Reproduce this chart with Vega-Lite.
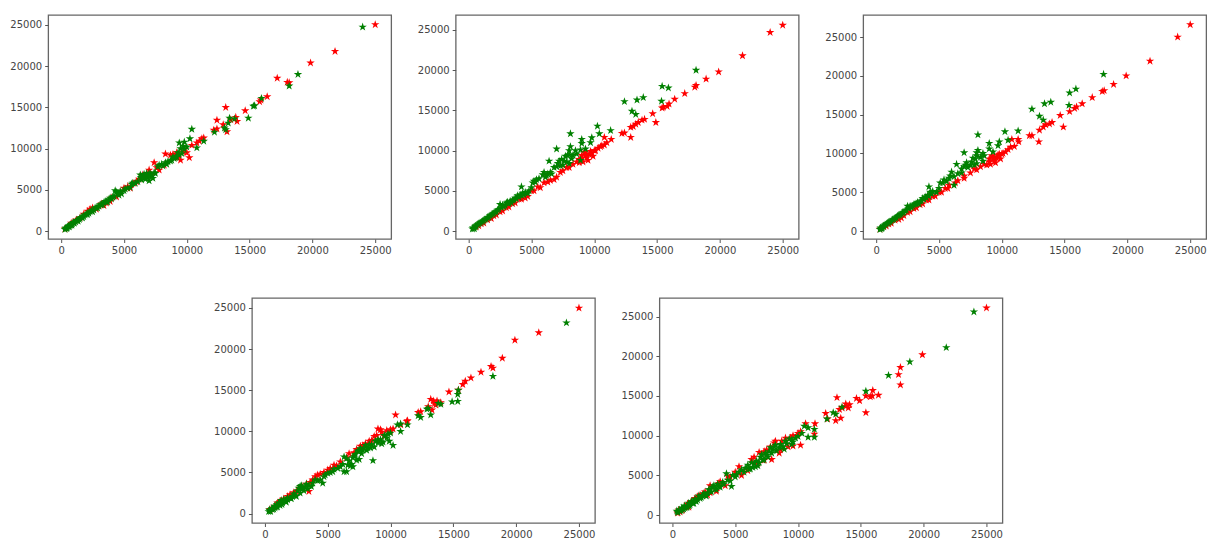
{"$schema":"https://vega.github.io/schema/vega-lite/v6.json","background":"white","padding":{"left":9,"top":14,"right":0,"bottom":0},"center":true,"spacing":40,
"config":{"numberFormat":"d","view":{"stroke":"#666666","strokeWidth":1.3},"axis":{"grid":false,"domain":false,"tickColor":"#555555","tickSize":3.5,"labelColor":"#444444","labelFont":"DejaVu Sans","labelFontSize":10,"labelPadding":3,"title":null,"labelOverlap":false,"labelFlush":false},"point":{"filled":true,"opacity":1,"size":78,"shape":"M0,-1L0.2245,-0.309L0.951,-0.309L0.363,0.118L0.588,0.809L0,0.382L-0.588,0.809L-0.363,0.118L-0.951,-0.309L-0.2245,-0.309Z"}},
"datasets":{
"p1":[{"x":800,"y":950,"s":"red"},{"x":1200,"y":1350,"s":"red"},{"x":1800,"y":2050,"s":"red"},{"x":2300,"y":2650,"s":"red"},{"x":2800,"y":2650,"s":"red"},{"x":3200,"y":3300,"s":"red"},{"x":3400,"y":3100,"s":"red"},{"x":3900,"y":3600,"s":"red"},{"x":4400,"y":4150,"s":"red"},{"x":5000,"y":5200,"s":"red"},{"x":5500,"y":5200,"s":"red"},{"x":6000,"y":6000,"s":"red"},{"x":6200,"y":6300,"s":"red"},{"x":7600,"y":7700,"s":"red"},{"x":8200,"y":8000,"s":"red"},{"x":8900,"y":9300,"s":"red"},{"x":9300,"y":8900,"s":"red"},{"x":9700,"y":9600,"s":"red"},{"x":10000,"y":9500,"s":"red"},{"x":11000,"y":10900,"s":"red"},{"x":25000,"y":25050,"s":"red"},{"x":21800,"y":21800,"s":"red"},{"x":19850,"y":20400,"s":"red"},{"x":18000,"y":18050,"s":"red"},{"x":18150,"y":18000,"s":"red"},{"x":17200,"y":18550,"s":"red"},{"x":16400,"y":16300,"s":"red"},{"x":15900,"y":15900,"s":"red"},{"x":15800,"y":15700,"s":"red"},{"x":14650,"y":14600,"s":"red"},{"x":13100,"y":15000,"s":"red"},{"x":12400,"y":13450,"s":"red"},{"x":13200,"y":12050,"s":"red"},{"x":12400,"y":12400,"s":"red"},{"x":12150,"y":12250,"s":"red"},{"x":12900,"y":12900,"s":"red"},{"x":13900,"y":13800,"s":"red"},{"x":14000,"y":13300,"s":"red"},{"x":13500,"y":13500,"s":"red"},{"x":11350,"y":11300,"s":"red"},{"x":11200,"y":11200,"s":"red"},{"x":10800,"y":10700,"s":"red"},{"x":10400,"y":10400,"s":"red"},{"x":10200,"y":8900,"s":"red"},{"x":9500,"y":8600,"s":"red"},{"x":8300,"y":9350,"s":"red"},{"x":8700,"y":9200,"s":"red"},{"x":9200,"y":9500,"s":"red"},{"x":7800,"y":7400,"s":"red"},{"x":7400,"y":8300,"s":"red"},{"x":7000,"y":7400,"s":"red"},{"x":6500,"y":6800,"s":"red"},{"x":7200,"y":6800,"s":"red"},{"x":5800,"y":5800,"s":"red"},{"x":5300,"y":5400,"s":"red"},{"x":4700,"y":4700,"s":"red"},{"x":4000,"y":4000,"s":"red"},{"x":3600,"y":3400,"s":"red"},{"x":2500,"y":2800,"s":"red"},{"x":2100,"y":2400,"s":"red"},{"x":1500,"y":1600,"s":"red"},{"x":300,"y":250,"s":"red"},
{"x":24000,"y":24750,"s":"green"},{"x":18850,"y":19000,"s":"green"},{"x":18150,"y":17600,"s":"green"},{"x":15950,"y":16100,"s":"green"},{"x":15400,"y":15200,"s":"green"},{"x":15300,"y":15150,"s":"green"},{"x":14900,"y":13700,"s":"green"},{"x":13800,"y":13600,"s":"green"},{"x":13400,"y":13700,"s":"green"},{"x":13300,"y":13100,"s":"green"},{"x":13000,"y":12500,"s":"green"},{"x":13100,"y":12300,"s":"green"},{"x":12200,"y":12000,"s":"green"},{"x":10400,"y":12350,"s":"green"},{"x":10250,"y":11200,"s":"green"},{"x":11350,"y":10900,"s":"green"},{"x":10800,"y":10100,"s":"green"},{"x":9400,"y":10700,"s":"green"},{"x":9800,"y":10800,"s":"green"},{"x":9500,"y":10000,"s":"green"},{"x":10000,"y":10200,"s":"green"},{"x":9800,"y":9900,"s":"green"},{"x":9600,"y":9400,"s":"green"},{"x":9400,"y":9200,"s":"green"},{"x":9200,"y":9000,"s":"green"},{"x":9000,"y":8800,"s":"green"},{"x":8800,"y":8600,"s":"green"},{"x":8500,"y":8400,"s":"green"},{"x":8300,"y":8300,"s":"green"},{"x":8000,"y":8100,"s":"green"},{"x":7800,"y":8000,"s":"green"},{"x":7500,"y":7000,"s":"green"},{"x":7300,"y":6400,"s":"green"},{"x":7100,"y":6900,"s":"green"},{"x":7000,"y":6100,"s":"green"},{"x":6900,"y":6500,"s":"green"},{"x":6800,"y":7000,"s":"green"},{"x":6700,"y":6300,"s":"green"},{"x":6500,"y":6600,"s":"green"},{"x":6400,"y":6200,"s":"green"},{"x":6300,"y":6800,"s":"green"},{"x":5900,"y":5800,"s":"green"},{"x":5700,"y":5800,"s":"green"},{"x":5600,"y":5700,"s":"green"},{"x":5300,"y":5200,"s":"green"},{"x":5000,"y":4900,"s":"green"},{"x":4700,"y":4800,"s":"green"},{"x":4500,"y":4500,"s":"green"},{"x":4300,"y":4900,"s":"green"},{"x":4200,"y":4200,"s":"green"},{"x":4000,"y":3900,"s":"green"},{"x":3800,"y":3800,"s":"green"},{"x":3600,"y":3550,"s":"green"},{"x":3400,"y":3450,"s":"green"},{"x":3200,"y":3150,"s":"green"},{"x":3000,"y":3000,"s":"green"},{"x":2800,"y":2800,"s":"green"},{"x":2600,"y":2550,"s":"green"},{"x":2400,"y":2450,"s":"green"},{"x":2200,"y":2150,"s":"green"},{"x":2000,"y":2050,"s":"green"},{"x":1800,"y":1750,"s":"green"},{"x":1600,"y":1650,"s":"green"},{"x":1450,"y":1400,"s":"green"},{"x":1300,"y":1300,"s":"green"},{"x":1150,"y":1100,"s":"green"},{"x":1000,"y":1000,"s":"green"},{"x":900,"y":850,"s":"green"},{"x":800,"y":800,"s":"green"},{"x":700,"y":650,"s":"green"},{"x":600,"y":600,"s":"green"},{"x":500,"y":420,"s":"green"},{"x":400,"y":350,"s":"green"},{"x":300,"y":200,"s":"green"},{"x":350,"y":350,"s":"green"},{"x":450,"y":300,"s":"green"},{"x":550,"y":550,"s":"green"},{"x":650,"y":500,"s":"green"},{"x":750,"y":750,"s":"green"},{"x":850,"y":700,"s":"green"},{"x":950,"y":1000,"s":"green"},{"x":1050,"y":950,"s":"green"},{"x":1200,"y":1250,"s":"green"},{"x":1350,"y":1200,"s":"green"},{"x":1500,"y":1550,"s":"green"},{"x":1700,"y":1600,"s":"green"},{"x":1900,"y":1950,"s":"green"},{"x":2100,"y":2000,"s":"green"},{"x":2300,"y":2350,"s":"green"},{"x":2500,"y":2350,"s":"green"},{"x":2700,"y":2800,"s":"green"},{"x":2900,"y":2800,"s":"green"},{"x":3100,"y":3200,"s":"green"},{"x":3300,"y":3200,"s":"green"},{"x":3500,"y":3600,"s":"green"},{"x":3700,"y":3500,"s":"green"},{"x":3900,"y":4000,"s":"green"},{"x":4100,"y":4100,"s":"green"},{"x":4400,"y":4700,"s":"green"},{"x":4600,"y":4350,"s":"green"},{"x":4800,"y":4500,"s":"green"},{"x":5100,"y":5100,"s":"green"},{"x":5500,"y":5300,"s":"green"},{"x":6100,"y":6000,"s":"green"},{"x":6350,"y":6500,"s":"green"},{"x":6600,"y":6900,"s":"green"},{"x":6700,"y":6600,"s":"green"},{"x":6800,"y":6700,"s":"green"},{"x":7000,"y":7000,"s":"green"},{"x":7200,"y":6600,"s":"green"},{"x":7400,"y":7100,"s":"green"},{"x":7700,"y":7800,"s":"green"},{"x":8100,"y":7900,"s":"green"},{"x":8400,"y":8100,"s":"green"},{"x":8700,"y":8500,"s":"green"},{"x":8900,"y":9000,"s":"green"},{"x":9100,"y":8900,"s":"green"},{"x":9300,"y":9500,"s":"green"},{"x":9700,"y":10300,"s":"green"}],
"p2":[{"x":800,"y":650,"s":"red"},{"x":1200,"y":1000,"s":"red"},{"x":1800,"y":1550,"s":"red"},{"x":2200,"y":2000,"s":"red"},{"x":2700,"y":2500,"s":"red"},{"x":3200,"y":3000,"s":"red"},{"x":3700,"y":3500,"s":"red"},{"x":4200,"y":3950,"s":"red"},{"x":4700,"y":4300,"s":"red"},{"x":5200,"y":5000,"s":"red"},{"x":5700,"y":5400,"s":"red"},{"x":6300,"y":6100,"s":"red"},{"x":7000,"y":6700,"s":"red"},{"x":7500,"y":7500,"s":"red"},{"x":8000,"y":7900,"s":"red"},{"x":8600,"y":8600,"s":"red"},{"x":9100,"y":8600,"s":"red"},{"x":9300,"y":9400,"s":"red"},{"x":9500,"y":8800,"s":"red"},{"x":9700,"y":9900,"s":"red"},{"x":9900,"y":9300,"s":"red"},{"x":10100,"y":10000,"s":"red"},{"x":10500,"y":10500,"s":"red"},{"x":10800,"y":10700,"s":"red"},{"x":9400,"y":9600,"s":"red"},{"x":9000,"y":9400,"s":"red"},{"x":8800,"y":8500,"s":"red"},{"x":25000,"y":25600,"s":"red"},{"x":24000,"y":24700,"s":"red"},{"x":21800,"y":21800,"s":"red"},{"x":19900,"y":19800,"s":"red"},{"x":18900,"y":18900,"s":"red"},{"x":18100,"y":18100,"s":"red"},{"x":18000,"y":17900,"s":"red"},{"x":17200,"y":17100,"s":"red"},{"x":16400,"y":16400,"s":"red"},{"x":15950,"y":15800,"s":"red"},{"x":15800,"y":15500,"s":"red"},{"x":15400,"y":15300,"s":"red"},{"x":15500,"y":15400,"s":"red"},{"x":14900,"y":13500,"s":"red"},{"x":14650,"y":14600,"s":"red"},{"x":14000,"y":13900,"s":"red"},{"x":13800,"y":13800,"s":"red"},{"x":13500,"y":13500,"s":"red"},{"x":13300,"y":13300,"s":"red"},{"x":13100,"y":13000,"s":"red"},{"x":12900,"y":12900,"s":"red"},{"x":12900,"y":11650,"s":"red"},{"x":12400,"y":12200,"s":"red"},{"x":12200,"y":12150,"s":"red"},{"x":11350,"y":11400,"s":"red"},{"x":10800,"y":11650,"s":"red"},{"x":11000,"y":11000,"s":"red"},{"x":10600,"y":10600,"s":"red"},{"x":10300,"y":10300,"s":"red"},{"x":10000,"y":10000,"s":"red"},{"x":9800,"y":9700,"s":"red"},{"x":9600,"y":9500,"s":"red"},{"x":9400,"y":9100,"s":"red"},{"x":9200,"y":9800,"s":"red"},{"x":9000,"y":9000,"s":"red"},{"x":8800,"y":8900,"s":"red"},{"x":8300,"y":8300,"s":"red"},{"x":7800,"y":7900,"s":"red"},{"x":7300,"y":7300,"s":"red"},{"x":6800,"y":6400,"s":"red"},{"x":6500,"y":6300,"s":"red"},{"x":6000,"y":6000,"s":"red"},{"x":5500,"y":5500,"s":"red"},{"x":5000,"y":5000,"s":"red"},{"x":4500,"y":4100,"s":"red"},{"x":4000,"y":4000,"s":"red"},{"x":3500,"y":3400,"s":"red"},{"x":3000,"y":2900,"s":"red"},{"x":2500,"y":2400,"s":"red"},{"x":2000,"y":1900,"s":"red"},{"x":1500,"y":1400,"s":"red"},{"x":1000,"y":900,"s":"red"},{"x":600,"y":500,"s":"red"},
{"x":18100,"y":20000,"s":"green"},{"x":15400,"y":18000,"s":"green"},{"x":15900,"y":17800,"s":"green"},{"x":13900,"y":16600,"s":"green"},{"x":13400,"y":16300,"s":"green"},{"x":12400,"y":16100,"s":"green"},{"x":15350,"y":16150,"s":"green"},{"x":13000,"y":14900,"s":"green"},{"x":13300,"y":14500,"s":"green"},{"x":10250,"y":13050,"s":"green"},{"x":11300,"y":12500,"s":"green"},{"x":10400,"y":12100,"s":"green"},{"x":8100,"y":12100,"s":"green"},{"x":9000,"y":11400,"s":"green"},{"x":9800,"y":11600,"s":"green"},{"x":9700,"y":11000,"s":"green"},{"x":9000,"y":10900,"s":"green"},{"x":7000,"y":10200,"s":"green"},{"x":8100,"y":10500,"s":"green"},{"x":8900,"y":10100,"s":"green"},{"x":8500,"y":10000,"s":"green"},{"x":8000,"y":9500,"s":"green"},{"x":7700,"y":9300,"s":"green"},{"x":7400,"y":8900,"s":"green"},{"x":8200,"y":9000,"s":"green"},{"x":7200,"y":8700,"s":"green"},{"x":6400,"y":8700,"s":"green"},{"x":7000,"y":8000,"s":"green"},{"x":6800,"y":7900,"s":"green"},{"x":7500,"y":8200,"s":"green"},{"x":8000,"y":8400,"s":"green"},{"x":8900,"y":8800,"s":"green"},{"x":6000,"y":7300,"s":"green"},{"x":6300,"y":7100,"s":"green"},{"x":6600,"y":7100,"s":"green"},{"x":6100,"y":6700,"s":"green"},{"x":5200,"y":6200,"s":"green"},{"x":5400,"y":6400,"s":"green"},{"x":5100,"y":6000,"s":"green"},{"x":4200,"y":5500,"s":"green"},{"x":4700,"y":4700,"s":"green"},{"x":4400,"y":4500,"s":"green"},{"x":4200,"y":4400,"s":"green"},{"x":4000,"y":4200,"s":"green"},{"x":3800,"y":4000,"s":"green"},{"x":3500,"y":3800,"s":"green"},{"x":3200,"y":3400,"s":"green"},{"x":3000,"y":3500,"s":"green"},{"x":2800,"y":3000,"s":"green"},{"x":2500,"y":3300,"s":"green"},{"x":2400,"y":2700,"s":"green"},{"x":2200,"y":2400,"s":"green"},{"x":2000,"y":2200,"s":"green"},{"x":1800,"y":2000,"s":"green"},{"x":1600,"y":1700,"s":"green"},{"x":1400,"y":1500,"s":"green"},{"x":1200,"y":1300,"s":"green"},{"x":1000,"y":1100,"s":"green"},{"x":800,"y":900,"s":"green"},{"x":600,"y":650,"s":"green"},{"x":500,"y":500,"s":"green"},{"x":400,"y":350,"s":"green"},{"x":300,"y":250,"s":"green"},{"x":350,"y":400,"s":"green"},{"x":450,"y":300,"s":"green"},{"x":550,"y":600,"s":"green"},{"x":700,"y":800,"s":"green"},{"x":900,"y":1000,"s":"green"},{"x":1100,"y":1200,"s":"green"},{"x":1300,"y":1450,"s":"green"},{"x":1500,"y":1650,"s":"green"},{"x":1700,"y":1900,"s":"green"},{"x":1900,"y":2100,"s":"green"},{"x":2100,"y":2350,"s":"green"},{"x":2300,"y":2600,"s":"green"},{"x":2600,"y":2900,"s":"green"},{"x":2700,"y":3200,"s":"green"},{"x":2900,"y":3200,"s":"green"},{"x":3100,"y":3600,"s":"green"},{"x":3300,"y":3700,"s":"green"},{"x":3400,"y":3500,"s":"green"},{"x":3600,"y":3900,"s":"green"},{"x":3700,"y":4100,"s":"green"},{"x":3900,"y":4400,"s":"green"},{"x":4100,"y":4500,"s":"green"},{"x":4300,"y":4700,"s":"green"},{"x":4500,"y":4800,"s":"green"},{"x":4800,"y":5000,"s":"green"},{"x":5000,"y":5400,"s":"green"},{"x":5300,"y":6100,"s":"green"},{"x":5600,"y":6500,"s":"green"},{"x":5900,"y":7000,"s":"green"},{"x":6200,"y":6900,"s":"green"},{"x":6500,"y":7300,"s":"green"},{"x":7100,"y":8400,"s":"green"},{"x":7300,"y":8100,"s":"green"},{"x":7600,"y":8700,"s":"green"},{"x":7800,"y":8600,"s":"green"},{"x":7900,"y":9400,"s":"green"},{"x":8300,"y":9400,"s":"green"},{"x":8600,"y":9600,"s":"green"},{"x":9300,"y":10200,"s":"green"},{"x":8000,"y":10000,"s":"green"}],
"p3":[{"x":800,"y":650,"s":"red"},{"x":1200,"y":1000,"s":"red"},{"x":1800,"y":1500,"s":"red"},{"x":2200,"y":2000,"s":"red"},{"x":2700,"y":2500,"s":"red"},{"x":3200,"y":3000,"s":"red"},{"x":3700,"y":3500,"s":"red"},{"x":4200,"y":4000,"s":"red"},{"x":4700,"y":4500,"s":"red"},{"x":5200,"y":5000,"s":"red"},{"x":5700,"y":5500,"s":"red"},{"x":6300,"y":6200,"s":"red"},{"x":7000,"y":6800,"s":"red"},{"x":7500,"y":7500,"s":"red"},{"x":8000,"y":7900,"s":"red"},{"x":8600,"y":8600,"s":"red"},{"x":9100,"y":8600,"s":"red"},{"x":9300,"y":9400,"s":"red"},{"x":9500,"y":8800,"s":"red"},{"x":9700,"y":9800,"s":"red"},{"x":9900,"y":9300,"s":"red"},{"x":10100,"y":10000,"s":"red"},{"x":10500,"y":10500,"s":"red"},{"x":11000,"y":10900,"s":"red"},{"x":9400,"y":9600,"s":"red"},{"x":9000,"y":9300,"s":"red"},{"x":8800,"y":8500,"s":"red"},{"x":25000,"y":26600,"s":"red"},{"x":24000,"y":25000,"s":"red"},{"x":21800,"y":21900,"s":"red"},{"x":19900,"y":20000,"s":"red"},{"x":18900,"y":18900,"s":"red"},{"x":18150,"y":18100,"s":"red"},{"x":18000,"y":18000,"s":"red"},{"x":17200,"y":17200,"s":"red"},{"x":16400,"y":16400,"s":"red"},{"x":15950,"y":16000,"s":"red"},{"x":15800,"y":15800,"s":"red"},{"x":15400,"y":15400,"s":"red"},{"x":14900,"y":13400,"s":"red"},{"x":14650,"y":14900,"s":"red"},{"x":14000,"y":14000,"s":"red"},{"x":13800,"y":13800,"s":"red"},{"x":13500,"y":13700,"s":"red"},{"x":13300,"y":13400,"s":"red"},{"x":13000,"y":13000,"s":"red"},{"x":12950,"y":11500,"s":"red"},{"x":12400,"y":12300,"s":"red"},{"x":12200,"y":12300,"s":"red"},{"x":11350,"y":11500,"s":"red"},{"x":11300,"y":11800,"s":"red"},{"x":10800,"y":11800,"s":"red"},{"x":10700,"y":10800,"s":"red"},{"x":10300,"y":10200,"s":"red"},{"x":10000,"y":9900,"s":"red"},{"x":9800,"y":9900,"s":"red"},{"x":9600,"y":9400,"s":"red"},{"x":9400,"y":9000,"s":"red"},{"x":9200,"y":9700,"s":"red"},{"x":9000,"y":8900,"s":"red"},{"x":8300,"y":8300,"s":"red"},{"x":7800,"y":8000,"s":"red"},{"x":7000,"y":7100,"s":"red"},{"x":6500,"y":6500,"s":"red"},{"x":5800,"y":5900,"s":"red"},{"x":5500,"y":5500,"s":"red"},{"x":5000,"y":5000,"s":"red"},{"x":4500,"y":4500,"s":"red"},{"x":4000,"y":4000,"s":"red"},{"x":3500,"y":3400,"s":"red"},{"x":3000,"y":2900,"s":"red"},{"x":2500,"y":2400,"s":"red"},{"x":2000,"y":1700,"s":"red"},{"x":1500,"y":1400,"s":"red"},{"x":1000,"y":900,"s":"red"},{"x":600,"y":550,"s":"red"},{"x":300,"y":250,"s":"red"},
{"x":18100,"y":20200,"s":"green"},{"x":15900,"y":18300,"s":"green"},{"x":15400,"y":17800,"s":"green"},{"x":13900,"y":16600,"s":"green"},{"x":13400,"y":16400,"s":"green"},{"x":15350,"y":16200,"s":"green"},{"x":12400,"y":15700,"s":"green"},{"x":13000,"y":14800,"s":"green"},{"x":13300,"y":14300,"s":"green"},{"x":11300,"y":12900,"s":"green"},{"x":10250,"y":12800,"s":"green"},{"x":8100,"y":12400,"s":"green"},{"x":10500,"y":11700,"s":"green"},{"x":9800,"y":11500,"s":"green"},{"x":9000,"y":11300,"s":"green"},{"x":9700,"y":11000,"s":"green"},{"x":9000,"y":10600,"s":"green"},{"x":8100,"y":10400,"s":"green"},{"x":7000,"y":10100,"s":"green"},{"x":8500,"y":10000,"s":"green"},{"x":8000,"y":9700,"s":"green"},{"x":7700,"y":9400,"s":"green"},{"x":6400,"y":8600,"s":"green"},{"x":7200,"y":8800,"s":"green"},{"x":7000,"y":8300,"s":"green"},{"x":7500,"y":8500,"s":"green"},{"x":8000,"y":8700,"s":"green"},{"x":8500,"y":9000,"s":"green"},{"x":6800,"y":8000,"s":"green"},{"x":6000,"y":7600,"s":"green"},{"x":6200,"y":7000,"s":"green"},{"x":5800,"y":6800,"s":"green"},{"x":5400,"y":6600,"s":"green"},{"x":5100,"y":6200,"s":"green"},{"x":6200,"y":5900,"s":"green"},{"x":4200,"y":5700,"s":"green"},{"x":4800,"y":5000,"s":"green"},{"x":4400,"y":4800,"s":"green"},{"x":4200,"y":4500,"s":"green"},{"x":4000,"y":4300,"s":"green"},{"x":3800,"y":4100,"s":"green"},{"x":3500,"y":3800,"s":"green"},{"x":3200,"y":3500,"s":"green"},{"x":3000,"y":3400,"s":"green"},{"x":2800,"y":3000,"s":"green"},{"x":2500,"y":3200,"s":"green"},{"x":2400,"y":2700,"s":"green"},{"x":2200,"y":2400,"s":"green"},{"x":2000,"y":2200,"s":"green"},{"x":1800,"y":2000,"s":"green"},{"x":1600,"y":1700,"s":"green"},{"x":1400,"y":1500,"s":"green"},{"x":1200,"y":1300,"s":"green"},{"x":1000,"y":1100,"s":"green"},{"x":800,"y":900,"s":"green"},{"x":600,"y":650,"s":"green"},{"x":500,"y":450,"s":"green"},{"x":400,"y":300,"s":"green"},{"x":300,"y":200,"s":"green"},{"x":350,"y":400,"s":"green"},{"x":450,"y":350,"s":"green"},{"x":550,"y":600,"s":"green"},{"x":700,"y":800,"s":"green"},{"x":900,"y":1000,"s":"green"},{"x":1100,"y":1200,"s":"green"},{"x":1300,"y":1450,"s":"green"},{"x":1500,"y":1650,"s":"green"},{"x":1700,"y":1900,"s":"green"},{"x":1900,"y":2100,"s":"green"},{"x":2100,"y":2350,"s":"green"},{"x":2300,"y":2600,"s":"green"},{"x":2600,"y":2900,"s":"green"},{"x":2700,"y":3200,"s":"green"},{"x":2900,"y":3200,"s":"green"},{"x":3100,"y":3500,"s":"green"},{"x":3300,"y":3700,"s":"green"},{"x":3400,"y":3500,"s":"green"},{"x":3600,"y":3900,"s":"green"},{"x":3700,"y":4200,"s":"green"},{"x":3900,"y":4400,"s":"green"},{"x":4100,"y":4600,"s":"green"},{"x":4300,"y":5000,"s":"green"},{"x":4500,"y":5100,"s":"green"},{"x":5000,"y":5500,"s":"green"},{"x":5300,"y":6200,"s":"green"},{"x":5600,"y":6400,"s":"green"},{"x":5900,"y":7100,"s":"green"},{"x":6500,"y":7400,"s":"green"},{"x":6800,"y":7500,"s":"green"},{"x":7100,"y":8500,"s":"green"},{"x":7300,"y":8200,"s":"green"},{"x":7600,"y":8900,"s":"green"},{"x":7800,"y":8500,"s":"green"},{"x":7900,"y":9300,"s":"green"},{"x":8300,"y":9500,"s":"green"},{"x":8600,"y":9700,"s":"green"},{"x":9300,"y":10200,"s":"green"},{"x":8000,"y":10100,"s":"green"}],
"p4":[{"x":400,"y":500,"s":"red"},{"x":1000,"y":1300,"s":"red"},{"x":1800,"y":2100,"s":"red"},{"x":2300,"y":2550,"s":"red"},{"x":2800,"y":3100,"s":"red"},{"x":3300,"y":3600,"s":"red"},{"x":3800,"y":4100,"s":"red"},{"x":4200,"y":4700,"s":"red"},{"x":4700,"y":5000,"s":"red"},{"x":5200,"y":5500,"s":"red"},{"x":6000,"y":6300,"s":"red"},{"x":6500,"y":6800,"s":"red"},{"x":7300,"y":7800,"s":"red"},{"x":7800,"y":8300,"s":"red"},{"x":8300,"y":8800,"s":"red"},{"x":8700,"y":9400,"s":"red"},{"x":9200,"y":10200,"s":"red"},{"x":9500,"y":9400,"s":"red"},{"x":10000,"y":10000,"s":"red"},{"x":13400,"y":13700,"s":"red"},{"x":13600,"y":13200,"s":"red"},{"x":25000,"y":25000,"s":"red"},{"x":21800,"y":22000,"s":"red"},{"x":19900,"y":21100,"s":"red"},{"x":18900,"y":18900,"s":"red"},{"x":18150,"y":17700,"s":"red"},{"x":18000,"y":17900,"s":"red"},{"x":17200,"y":17200,"s":"red"},{"x":16400,"y":16500,"s":"red"},{"x":15950,"y":16100,"s":"red"},{"x":15750,"y":15700,"s":"red"},{"x":15400,"y":15000,"s":"red"},{"x":14650,"y":14800,"s":"red"},{"x":14000,"y":13500,"s":"red"},{"x":13700,"y":13700,"s":"red"},{"x":13500,"y":13400,"s":"red"},{"x":13200,"y":13900,"s":"red"},{"x":13000,"y":13000,"s":"red"},{"x":13300,"y":12600,"s":"red"},{"x":12400,"y":12400,"s":"red"},{"x":12200,"y":12300,"s":"red"},{"x":11350,"y":11300,"s":"red"},{"x":11300,"y":11200,"s":"red"},{"x":10400,"y":12000,"s":"red"},{"x":10800,"y":10800,"s":"red"},{"x":10200,"y":10300,"s":"red"},{"x":10000,"y":10200,"s":"red"},{"x":9700,"y":10100,"s":"red"},{"x":9000,"y":10300,"s":"red"},{"x":8900,"y":9500,"s":"red"},{"x":9300,"y":9900,"s":"red"},{"x":8500,"y":8900,"s":"red"},{"x":8000,"y":8500,"s":"red"},{"x":7600,"y":8200,"s":"red"},{"x":6700,"y":7300,"s":"red"},{"x":7100,"y":7400,"s":"red"},{"x":5500,"y":5900,"s":"red"},{"x":5700,"y":5800,"s":"red"},{"x":5000,"y":5300,"s":"red"},{"x":4400,"y":4800,"s":"red"},{"x":4000,"y":4500,"s":"red"},{"x":3600,"y":3800,"s":"red"},{"x":3500,"y":2700,"s":"red"},{"x":3000,"y":3200,"s":"red"},{"x":2500,"y":2700,"s":"red"},{"x":2000,"y":2300,"s":"red"},{"x":1500,"y":1800,"s":"red"},{"x":1200,"y":1500,"s":"red"},{"x":800,"y":900,"s":"red"},
{"x":24000,"y":23200,"s":"green"},{"x":18150,"y":16700,"s":"green"},{"x":15400,"y":15000,"s":"green"},{"x":15350,"y":14500,"s":"green"},{"x":14900,"y":13600,"s":"green"},{"x":15350,"y":13650,"s":"green"},{"x":14000,"y":13300,"s":"green"},{"x":13800,"y":13400,"s":"green"},{"x":13200,"y":12000,"s":"green"},{"x":12900,"y":12700,"s":"green"},{"x":13000,"y":12800,"s":"green"},{"x":12200,"y":11900,"s":"green"},{"x":12400,"y":11700,"s":"green"},{"x":11350,"y":10800,"s":"green"},{"x":10800,"y":10900,"s":"green"},{"x":10550,"y":10800,"s":"green"},{"x":10800,"y":10000,"s":"green"},{"x":10200,"y":8300,"s":"green"},{"x":8600,"y":6450,"s":"green"},{"x":9800,"y":9700,"s":"green"},{"x":9500,"y":9500,"s":"green"},{"x":9400,"y":8700,"s":"green"},{"x":9200,"y":9000,"s":"green"},{"x":9000,"y":8600,"s":"green"},{"x":8800,"y":8800,"s":"green"},{"x":8500,"y":8400,"s":"green"},{"x":8200,"y":8000,"s":"green"},{"x":8000,"y":8300,"s":"green"},{"x":7800,"y":7700,"s":"green"},{"x":7600,"y":7900,"s":"green"},{"x":7500,"y":6600,"s":"green"},{"x":7400,"y":7600,"s":"green"},{"x":7200,"y":7200,"s":"green"},{"x":7000,"y":6800,"s":"green"},{"x":7000,"y":5700,"s":"green"},{"x":6800,"y":5800,"s":"green"},{"x":6500,"y":6700,"s":"green"},{"x":6300,"y":6900,"s":"green"},{"x":6300,"y":5100,"s":"green"},{"x":6500,"y":5100,"s":"green"},{"x":6000,"y":5700,"s":"green"},{"x":5500,"y":5400,"s":"green"},{"x":5000,"y":4900,"s":"green"},{"x":4700,"y":4500,"s":"green"},{"x":4600,"y":3700,"s":"green"},{"x":4200,"y":4000,"s":"green"},{"x":3800,"y":3700,"s":"green"},{"x":3500,"y":3400,"s":"green"},{"x":3200,"y":3200,"s":"green"},{"x":3000,"y":3000,"s":"green"},{"x":2800,"y":3300,"s":"green"},{"x":2600,"y":2800,"s":"green"},{"x":2400,"y":2200,"s":"green"},{"x":2200,"y":2100,"s":"green"},{"x":2000,"y":1900,"s":"green"},{"x":1800,"y":1700,"s":"green"},{"x":1600,"y":1500,"s":"green"},{"x":1400,"y":1300,"s":"green"},{"x":1200,"y":1000,"s":"green"},{"x":1100,"y":1300,"s":"green"},{"x":1000,"y":800,"s":"green"},{"x":800,"y":700,"s":"green"},{"x":600,"y":500,"s":"green"},{"x":400,"y":350,"s":"green"},{"x":300,"y":250,"s":"green"},{"x":350,"y":450,"s":"green"},{"x":450,"y":250,"s":"green"},{"x":550,"y":600,"s":"green"},{"x":700,"y":550,"s":"green"},{"x":750,"y":900,"s":"green"},{"x":900,"y":800,"s":"green"},{"x":950,"y":1100,"s":"green"},{"x":1150,"y":1100,"s":"green"},{"x":1300,"y":1600,"s":"green"},{"x":1350,"y":1100,"s":"green"},{"x":1500,"y":1700,"s":"green"},{"x":1700,"y":1400,"s":"green"},{"x":1800,"y":1900,"s":"green"},{"x":2100,"y":1800,"s":"green"},{"x":2300,"y":2400,"s":"green"},{"x":2500,"y":2100,"s":"green"},{"x":2700,"y":3100,"s":"green"},{"x":2800,"y":2500,"s":"green"},{"x":2900,"y":3400,"s":"green"},{"x":3100,"y":2800,"s":"green"},{"x":3300,"y":3600,"s":"green"},{"x":3400,"y":3000,"s":"green"},{"x":3700,"y":3300,"s":"green"},{"x":4000,"y":4100,"s":"green"},{"x":4400,"y":4100,"s":"green"},{"x":4800,"y":4700,"s":"green"},{"x":5200,"y":5000,"s":"green"},{"x":5400,"y":5100,"s":"green"},{"x":5800,"y":5500,"s":"green"},{"x":6200,"y":6000,"s":"green"},{"x":6600,"y":5900,"s":"green"},{"x":6700,"y":6400,"s":"green"},{"x":6900,"y":6000,"s":"green"},{"x":7100,"y":7000,"s":"green"},{"x":7300,"y":6500,"s":"green"},{"x":7500,"y":7700,"s":"green"},{"x":7700,"y":7300,"s":"green"},{"x":7900,"y":8000,"s":"green"},{"x":8100,"y":7700,"s":"green"},{"x":8300,"y":8400,"s":"green"},{"x":8400,"y":8000,"s":"green"},{"x":8700,"y":8100,"s":"green"},{"x":9000,"y":9000,"s":"green"},{"x":9300,"y":8500,"s":"green"},{"x":9700,"y":9200,"s":"green"},{"x":9900,"y":8800,"s":"green"},{"x":10000,"y":9800,"s":"green"}],
"p5":[{"x":400,"y":250,"s":"red"},{"x":500,"y":600,"s":"red"},{"x":1200,"y":1400,"s":"red"},{"x":1300,"y":1000,"s":"red"},{"x":1800,"y":2100,"s":"red"},{"x":2200,"y":2500,"s":"red"},{"x":2600,"y":2900,"s":"red"},{"x":3000,"y":2800,"s":"red"},{"x":3500,"y":3000,"s":"red"},{"x":3800,"y":4200,"s":"red"},{"x":4600,"y":4800,"s":"red"},{"x":5000,"y":5400,"s":"red"},{"x":6000,"y":5600,"s":"red"},{"x":6300,"y":7000,"s":"red"},{"x":6900,"y":7900,"s":"red"},{"x":7300,"y":6900,"s":"red"},{"x":7500,"y":8200,"s":"red"},{"x":7800,"y":8600,"s":"red"},{"x":8100,"y":9100,"s":"red"},{"x":8600,"y":8200,"s":"red"},{"x":8700,"y":9300,"s":"red"},{"x":9200,"y":8600,"s":"red"},{"x":9600,"y":10000,"s":"red"},{"x":9900,"y":10000,"s":"red"},{"x":13800,"y":13700,"s":"red"},{"x":14000,"y":13500,"s":"red"},{"x":25000,"y":26100,"s":"red"},{"x":19900,"y":20200,"s":"red"},{"x":18150,"y":18600,"s":"red"},{"x":18000,"y":17700,"s":"red"},{"x":18150,"y":16400,"s":"red"},{"x":16400,"y":15100,"s":"red"},{"x":15950,"y":15700,"s":"red"},{"x":15900,"y":15000,"s":"red"},{"x":15750,"y":14900,"s":"red"},{"x":15400,"y":15000,"s":"red"},{"x":15400,"y":12900,"s":"red"},{"x":14900,"y":14400,"s":"red"},{"x":14650,"y":14700,"s":"red"},{"x":14100,"y":13900,"s":"red"},{"x":13800,"y":14000,"s":"red"},{"x":13500,"y":13500,"s":"red"},{"x":13100,"y":14800,"s":"red"},{"x":13300,"y":13300,"s":"red"},{"x":13000,"y":11900,"s":"red"},{"x":13400,"y":12200,"s":"red"},{"x":12350,"y":12100,"s":"red"},{"x":12200,"y":12800,"s":"red"},{"x":11350,"y":11500,"s":"red"},{"x":11300,"y":10200,"s":"red"},{"x":10600,"y":11500,"s":"red"},{"x":10200,"y":10500,"s":"red"},{"x":10000,"y":10300,"s":"red"},{"x":10200,"y":8800,"s":"red"},{"x":9600,"y":8700,"s":"red"},{"x":9400,"y":9700,"s":"red"},{"x":9000,"y":9700,"s":"red"},{"x":8200,"y":9300,"s":"red"},{"x":8500,"y":7800,"s":"red"},{"x":7900,"y":7000,"s":"red"},{"x":7300,"y":8000,"s":"red"},{"x":6500,"y":7300,"s":"red"},{"x":6800,"y":6500,"s":"red"},{"x":5300,"y":6100,"s":"red"},{"x":5500,"y":5000,"s":"red"},{"x":4400,"y":4900,"s":"red"},{"x":4200,"y":3700,"s":"red"},{"x":3700,"y":4000,"s":"red"},{"x":3000,"y":3700,"s":"red"},{"x":2800,"y":2500,"s":"red"},{"x":2400,"y":2600,"s":"red"},{"x":2000,"y":2300,"s":"red"},{"x":1500,"y":1700,"s":"red"},{"x":1000,"y":1000,"s":"red"},{"x":800,"y":600,"s":"red"},{"x":600,"y":400,"s":"red"},
{"x":24000,"y":25600,"s":"green"},{"x":21800,"y":21100,"s":"green"},{"x":18900,"y":19300,"s":"green"},{"x":17200,"y":17600,"s":"green"},{"x":15400,"y":15600,"s":"green"},{"x":13500,"y":13600,"s":"green"},{"x":13000,"y":12700,"s":"green"},{"x":12800,"y":12900,"s":"green"},{"x":12300,"y":12100,"s":"green"},{"x":11300,"y":10800,"s":"green"},{"x":11300,"y":9800,"s":"green"},{"x":10800,"y":11000,"s":"green"},{"x":10800,"y":9800,"s":"green"},{"x":10500,"y":11200,"s":"green"},{"x":10300,"y":10300,"s":"green"},{"x":9800,"y":9700,"s":"green"},{"x":9500,"y":8900,"s":"green"},{"x":9300,"y":9600,"s":"green"},{"x":9000,"y":9300,"s":"green"},{"x":8800,"y":8600,"s":"green"},{"x":8500,"y":8500,"s":"green"},{"x":8200,"y":8800,"s":"green"},{"x":8000,"y":8200,"s":"green"},{"x":7800,"y":8500,"s":"green"},{"x":7500,"y":7500,"s":"green"},{"x":7300,"y":7000,"s":"green"},{"x":7000,"y":7300,"s":"green"},{"x":6800,"y":6200,"s":"green"},{"x":6500,"y":6500,"s":"green"},{"x":6200,"y":5800,"s":"green"},{"x":6000,"y":6300,"s":"green"},{"x":5800,"y":5900,"s":"green"},{"x":5300,"y":5400,"s":"green"},{"x":5000,"y":4800,"s":"green"},{"x":4700,"y":3600,"s":"green"},{"x":4300,"y":5200,"s":"green"},{"x":4400,"y":4400,"s":"green"},{"x":4000,"y":4100,"s":"green"},{"x":3700,"y":3600,"s":"green"},{"x":3400,"y":3300,"s":"green"},{"x":3200,"y":3500,"s":"green"},{"x":3000,"y":3200,"s":"green"},{"x":2800,"y":2800,"s":"green"},{"x":2600,"y":2500,"s":"green"},{"x":2400,"y":2400,"s":"green"},{"x":2200,"y":2100,"s":"green"},{"x":2000,"y":1900,"s":"green"},{"x":1800,"y":1800,"s":"green"},{"x":1600,"y":1500,"s":"green"},{"x":1400,"y":1300,"s":"green"},{"x":1200,"y":1100,"s":"green"},{"x":1000,"y":900,"s":"green"},{"x":800,"y":700,"s":"green"},{"x":600,"y":500,"s":"green"},{"x":400,"y":400,"s":"green"},{"x":350,"y":500,"s":"green"},{"x":450,"y":300,"s":"green"},{"x":550,"y":650,"s":"green"},{"x":700,"y":550,"s":"green"},{"x":750,"y":900,"s":"green"},{"x":900,"y":750,"s":"green"},{"x":950,"y":1150,"s":"green"},{"x":1150,"y":950,"s":"green"},{"x":1300,"y":1500,"s":"green"},{"x":1350,"y":1150,"s":"green"},{"x":1500,"y":1700,"s":"green"},{"x":1700,"y":1450,"s":"green"},{"x":1800,"y":2000,"s":"green"},{"x":1900,"y":1700,"s":"green"},{"x":2100,"y":2400,"s":"green"},{"x":2300,"y":2200,"s":"green"},{"x":2500,"y":2700,"s":"green"},{"x":2700,"y":2400,"s":"green"},{"x":2900,"y":3200,"s":"green"},{"x":3100,"y":2900,"s":"green"},{"x":3300,"y":3700,"s":"green"},{"x":3500,"y":3200,"s":"green"},{"x":3600,"y":3900,"s":"green"},{"x":3800,"y":3500,"s":"green"},{"x":4100,"y":3900,"s":"green"},{"x":4600,"y":4300,"s":"green"},{"x":4800,"y":5000,"s":"green"},{"x":5100,"y":5100,"s":"green"},{"x":5500,"y":5700,"s":"green"},{"x":5700,"y":5400,"s":"green"},{"x":6100,"y":5800,"s":"green"},{"x":6300,"y":6600,"s":"green"},{"x":6400,"y":6000,"s":"green"},{"x":6600,"y":6100,"s":"green"},{"x":6700,"y":6800,"s":"green"},{"x":6900,"y":6600,"s":"green"},{"x":7100,"y":7600,"s":"green"},{"x":7200,"y":6900,"s":"green"},{"x":7400,"y":7800,"s":"green"},{"x":7600,"y":7300,"s":"green"},{"x":7700,"y":8000,"s":"green"},{"x":7900,"y":7800,"s":"green"},{"x":8100,"y":8600,"s":"green"},{"x":8300,"y":8100,"s":"green"},{"x":8600,"y":8900,"s":"green"},{"x":8900,"y":8300,"s":"green"},{"x":9100,"y":9000,"s":"green"},{"x":9500,"y":9500,"s":"green"},{"x":9600,"y":9200,"s":"green"},{"x":10000,"y":9900,"s":"green"}]},
"vconcat":[{"hconcat":[
{"width":343,"height":224,"data":{"name":"p1"},"mark":"point","encoding":{"x":{"field":"x","type":"quantitative","axis":{"values":[0,5000,10000,15000,20000,25000]},"scale":{"domain":[-1035,26270],"nice":false,"zero":false}},"y":{"field":"y","type":"quantitative","axis":{"values":[0,5000,10000,15000,20000,25000]},"scale":{"domain":[-970,26210],"nice":false,"zero":false}},"color":{"field":"s","type":"nominal","legend":null,"scale":{"domain":["red","green"],"range":["#ff0000","#008000"]}}}},
{"width":343,"height":224,"data":{"name":"p2"},"mark":"point","encoding":{"x":{"field":"x","type":"quantitative","axis":{"values":[0,5000,10000,15000,20000,25000]},"scale":{"domain":[-1035,26270],"nice":false,"zero":false}},"y":{"field":"y","type":"quantitative","axis":{"values":[0,5000,10000,15000,20000,25000]},"scale":{"domain":[-995,26865],"nice":false,"zero":false}},"color":{"field":"s","type":"nominal","legend":null,"scale":{"domain":["red","green"],"range":["#ff0000","#008000"]}}}},
{"width":343,"height":224,"data":{"name":"p3"},"mark":"point","encoding":{"x":{"field":"x","type":"quantitative","axis":{"values":[0,5000,10000,15000,20000,25000]},"scale":{"domain":[-1035,26270],"nice":false,"zero":false}},"y":{"field":"y","type":"quantitative","axis":{"values":[0,5000,10000,15000,20000,25000]},"scale":{"domain":[-1030,27835],"nice":false,"zero":false}},"color":{"field":"s","type":"nominal","legend":null,"scale":{"domain":["red","green"],"range":["#ff0000","#008000"]}}}}
],"spacing":64.5,"bounds":"flush"},
{"hconcat":[
{"width":343,"height":225,"data":{"name":"p4"},"mark":"point","encoding":{"x":{"field":"x","type":"quantitative","axis":{"values":[0,5000,10000,15000,20000,25000]},"scale":{"domain":[-1035,26270],"nice":false,"zero":false}},"y":{"field":"y","type":"quantitative","axis":{"values":[0,5000,10000,15000,20000,25000]},"scale":{"domain":[-1143,26215],"nice":false,"zero":false}},"color":{"field":"s","type":"nominal","legend":null,"scale":{"domain":["red","green"],"range":["#ff0000","#008000"]}}}},
{"width":343,"height":225,"data":{"name":"p5"},"mark":"point","encoding":{"x":{"field":"x","type":"quantitative","axis":{"values":[0,5000,10000,15000,20000,25000]},"scale":{"domain":[-1035,26270],"nice":false,"zero":false}},"y":{"field":"y","type":"quantitative","axis":{"values":[0,5000,10000,15000,20000,25000]},"scale":{"domain":[-1008,27343],"nice":false,"zero":false}},"color":{"field":"s","type":"nominal","legend":null,"scale":{"domain":["red","green"],"range":["#ff0000","#008000"]}}}}
],"spacing":64.5,"bounds":"flush"}]}
